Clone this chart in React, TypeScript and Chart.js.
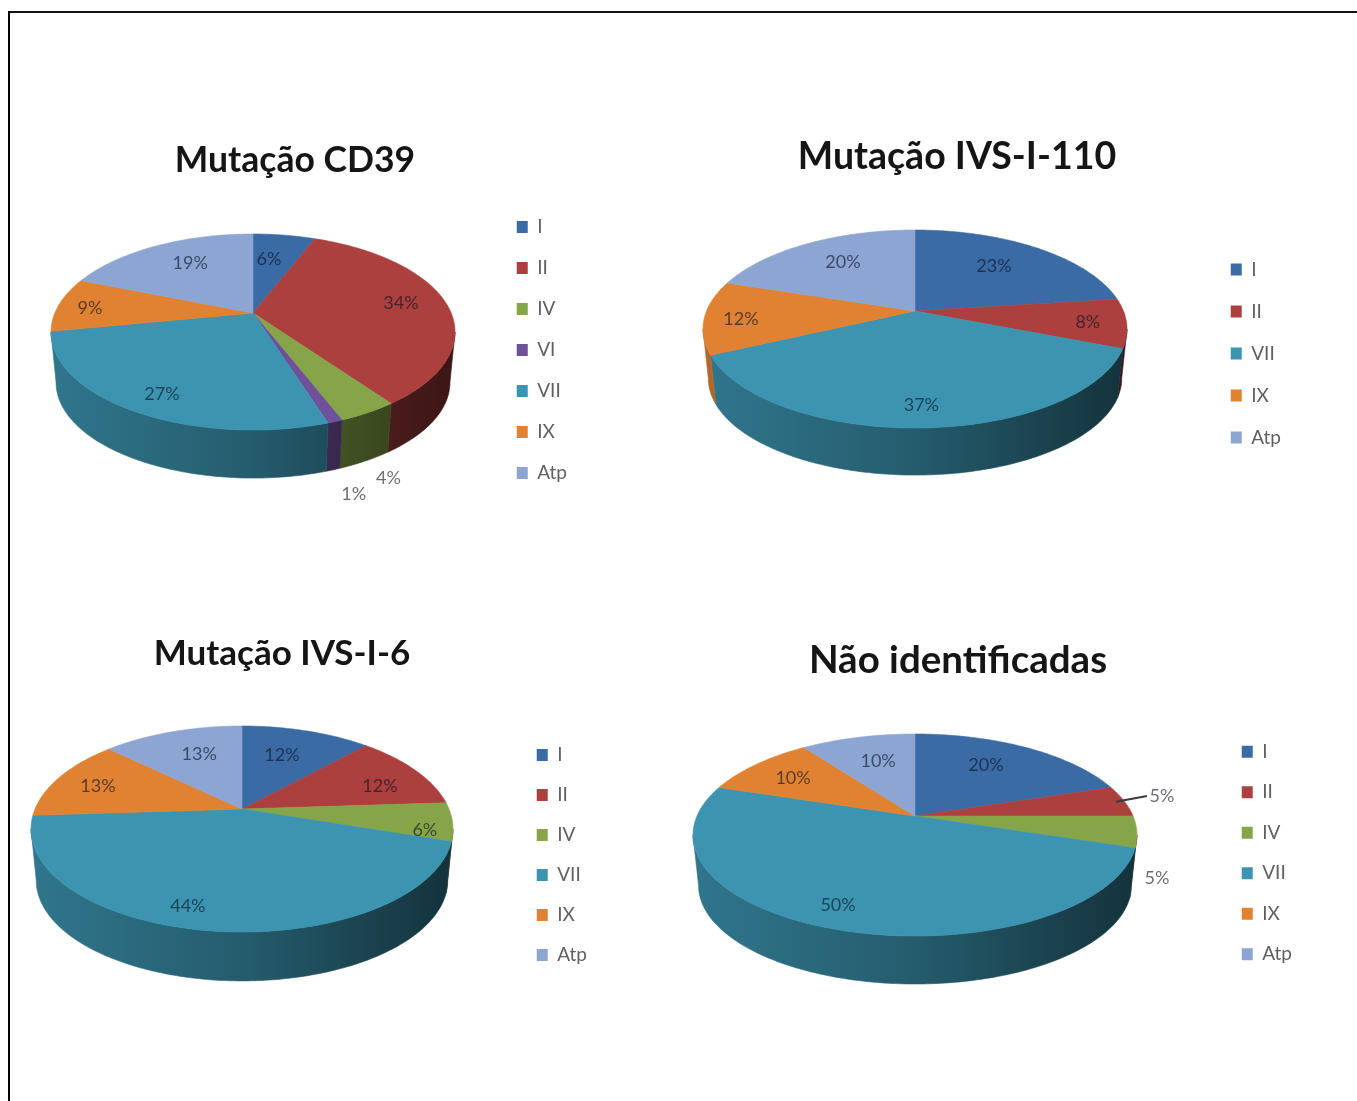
import React, { useEffect, useRef } from "react";
import { Chart, registerables } from "chart.js";

Chart.register(...registerables);

const FONT = "Lato, 'Open Sans', sans-serif";

// Slice colours by mutation class.
const CLASS_COLORS: Record<string, string> = {
  I: "#3b6ba5",
  II: "#ab403e",
  IV: "#86a548",
  VI: "#6f509a",
  VII: "#3c94b0",
  IX: "#e08232",
  Atp: "#8ca5d2",
};

const cd39Classes = ["I", "II", "IV", "VI", "VII", "IX", "Atp"];
const cd39Values = [6, 34, 4, 1, 27, 9, 19];

const ivs110Classes = ["I", "II", "VII", "IX", "Atp"];
const ivs110Values = [23, 8, 37, 12, 20];

const ivs6Classes = ["I", "II", "IV", "VII", "IX", "Atp"];
const ivs6Values = [12, 12, 6, 44, 13, 13];

const unknownClasses = ["I", "II", "IV", "VII", "IX", "Atp"];
const unknownValues = [20, 5, 5, 50, 10, 10];

// Label placement: [radial fraction of the disc, degrees away from the slice's middle].
const cd39Spots = [[0.663, -2.9], [0.773, -1.7], [1.4, 7.4], [1.443, 4.9], [0.829, -2.2], [0.835, -1], [0.7, 3.8]];
const ivs110Spots = [[0.671, -3.2], [0.82, 0], [0.826, 0], [0.827, -1.4], [0.692, 2.5]];
const ivs6Spots = [[0.659, -2.4], [0.744, 5.3], [0.872, 5.7], [0.845, 7.9], [0.773, -0.6], [0.676, 3.3]];
const unknownSpots = [[0.695, -4.6], [1.202, -1.8], [1.14, 20.4], [0.83, 3.3], [0.744, -0.4], [0.672, 1.6]];

type Panel = {
  title: string;
  titleSize: number;
  classes: string[];
  values: number[];
  spots: number[][];
  leaders?: number[];
  box: { left: number; top: number; width: number; height: number };
  legendGap: number;
  disc: { cx: number; cy: number; top: number; bottom: number; rx: number; drop: number };
};

const panels: Panel[] = [
  {
    title: "Mutação CD39",
    titleSize: 35.5,
    classes: cd39Classes,
    values: cd39Values,
    spots: cd39Spots,
    box: { left: 13, top: 139, width: 564, height: 422 },
    legendGap: 22,
    disc: { cx: 253, cy: 313, top: 234, bottom: 430, rx: 202, drop: 51 },
  },
  {
    title: "Mutação IVS-I-110",
    titleSize: 37.5,
    classes: ivs110Classes,
    values: ivs110Values,
    spots: ivs110Spots,
    box: { left: 623, top: 134, width: 668, height: 439 },
    legendGap: 23,
    disc: { cx: 915, cy: 311, top: 230, bottom: 428, rx: 212, drop: 50 },
  },
  {
    title: "Mutação IVS-I-6",
    titleSize: 35,
    classes: ivs6Classes,
    values: ivs6Values,
    spots: ivs6Spots,
    box: { left: -33, top: 633, width: 630, height: 444 },
    legendGap: 21,
    disc: { cx: 242, cy: 809, top: 726, bottom: 932, rx: 211, drop: 52 },
  },
  {
    title: "Não identificadas",
    titleSize: 38.5,
    classes: unknownClasses,
    values: unknownValues,
    spots: unknownSpots,
    leaders: [1],
    box: { left: 614, top: 637, width: 688, height: 432 },
    legendGap: 21.5,
    disc: { cx: 915, cy: 816, top: 734, bottom: 936, rx: 222, drop: 51 },
  },
];

function shade(hex: string, f: number) {
  const n = parseInt(hex.slice(1), 16);
  const c = [(n >> 16) & 255, (n >> 8) & 255, n & 255].map((x) => Math.round(x * f));
  return `rgb(${c[0]},${c[1]},${c[2]})`;
}

// Perspective view of a flat disc: the near edge is larger than the far edge, so
// the hub sits above the middle of the ellipse. theta is clockwise from 12 o'clock.
function makeProjection(panel: Panel, ox: number, oy: number) {
  const { cx, cy, top, bottom, rx, drop } = panel.disc;
  const up = cy - top;
  const down = bottom - cy;
  const k = (down - up) / (down + up);
  const a = up * (1 + k);
  const b = rx * Math.sqrt(1 - k * k);
  const face = (theta: number, r = 1) => {
    const u = r * Math.sin(theta);
    const v = -r * Math.cos(theta);
    const w = 1 - k * v;
    return { x: cx - ox + (b * u) / w, y: cy - oy + (a * v) / w };
  };
  const base = (theta: number) => {
    const p = face(theta);
    const hubX = cx - ox;
    const hubY = cy - oy;
    return { x: hubX + (p.x - hubX) * 0.975, y: hubY + drop + (p.y - hubY) * 0.975 };
  };
  return { face, base, k, rimLeft: cx - ox - rx, rimRight: cx - ox + rx };
}

const pie3d = {
  id: "pie3d",
  beforeDatasetsDraw(chart: any, _args: any, opts: any) {
    const panel: Panel = opts.panel;
    const { ctx } = chart;
    const box = panel.box;
    const proj = makeProjection(panel, box.left, box.top);
    const arcs = chart.getDatasetMeta(0).data;
    const colors: string[] = chart.data.datasets[0].backgroundColor;
    const step = Math.PI / 180;
    const spanOf = (el: any) => {
      const p = el.getProps(["startAngle", "endAngle"], true);
      return [p.startAngle + Math.PI / 2, p.endAngle + Math.PI / 2];
    };

    // Outer wall, limited to the part that faces the viewer.
    const firstVisible = Math.acos(-proj.k);
    const lastVisible = 2 * Math.PI - firstVisible;
    arcs.forEach((el: any, i: number) => {
      const [s, e] = spanOf(el);
      const from = Math.max(s, firstVisible);
      const to = Math.min(e, lastVisible);
      if (to <= from) return;
      const grad = ctx.createLinearGradient(proj.rimLeft, 0, proj.rimRight, 0);
      grad.addColorStop(0, shade(colors[i], 0.8));
      grad.addColorStop(0.5, shade(colors[i], 0.62));
      grad.addColorStop(0.75, shade(colors[i], 0.48));
      grad.addColorStop(1, shade(colors[i], 0.34));
      ctx.beginPath();
      for (let t = from; t < to; t += step) {
        const p = proj.face(t);
        ctx.lineTo(p.x, p.y);
      }
      const pe = proj.face(to);
      ctx.lineTo(pe.x, pe.y);
      for (let t = to; t > from; t -= step) {
        const p = proj.base(t);
        ctx.lineTo(p.x, p.y);
      }
      const pf = proj.base(from);
      ctx.lineTo(pf.x, pf.y);
      ctx.closePath();
      ctx.fillStyle = grad;
      ctx.strokeStyle = grad;
      ctx.lineWidth = 0.6;
      ctx.fill();
      ctx.stroke();
    });

    // Top face.
    arcs.forEach((el: any, i: number) => {
      const [s, e] = spanOf(el);
      const hub = proj.face(0, 0);
      ctx.beginPath();
      ctx.moveTo(hub.x, hub.y);
      for (let t = s; t < e; t += step) {
        const p = proj.face(t);
        ctx.lineTo(p.x, p.y);
      }
      const pe = proj.face(e);
      ctx.lineTo(pe.x, pe.y);
      ctx.closePath();
      ctx.fillStyle = colors[i];
      ctx.strokeStyle = colors[i];
      ctx.lineWidth = 0.6;
      ctx.fill();
      ctx.stroke();
    });

    // Percentage labels, and a short leader where a label sits off its slice.
    const values: number[] = chart.data.datasets[0].data;
    ctx.font = `18px ${FONT}`;
    ctx.textAlign = "center";
    ctx.textBaseline = "middle";
    arcs.forEach((el: any, i: number) => {
      const [s, e] = spanOf(el);
      const mid = (s + e) / 2;
      const [radial, nudge] = panel.spots[i];
      const at = proj.face(mid + (nudge * Math.PI) / 180, radial);
      if (panel.leaders?.includes(i)) {
        const from = proj.face(mid, 0.96);
        ctx.beginPath();
        ctx.moveTo(from.x, from.y);
        ctx.lineTo(at.x - 15, at.y + 1);
        ctx.strokeStyle = "#3a3a3a";
        ctx.lineWidth = 2;
        ctx.stroke();
      }
      ctx.fillStyle = "rgba(8,16,36,0.62)";
      ctx.fillText(`${values[i]}%`, at.x, at.y + 1);
    });
    return false;
  },
};

function PieCard({ panel }: { panel: Panel }) {
  const ref = useRef<HTMLCanvasElement>(null);
  useEffect(() => {
    const chart = new Chart(ref.current!, {
      type: "pie",
      data: {
        labels: panel.classes,
        datasets: [
          {
            data: panel.values,
            backgroundColor: panel.classes.map((c) => CLASS_COLORS[c]),
            borderWidth: 0,
          },
        ],
      },
      plugins: [pie3d],
      options: {
        responsive: false,
        animation: false,
        plugins: {
          title: {
            display: true,
            text: panel.title,
            color: "#151515",
            font: { family: FONT, size: panel.titleSize, weight: "bold" },
            padding: { top: 0, bottom: 0 },
          },
          legend: {
            position: "right",
            labels: {
              boxWidth: 11,
              boxHeight: 12,
              padding: panel.legendGap,
              color: "#606060",
              font: { family: FONT, size: 19 },
            },
          },
          tooltip: { enabled: false },
          pie3d: { panel },
        } as any,
      },
    });
    return () => chart.destroy();
  }, [panel]);
  const { left, top, width, height } = panel.box;
  return (
    <canvas
      ref={ref}
      width={width}
      height={height}
      style={{ position: "absolute", left, top, width, height }}
    />
  );
}

export default function App() {
  return (
    <div
      style={{
        position: "absolute",
        left: 0,
        top: 0,
        width: 1357,
        height: 1101,
        overflow: "hidden",
        background: "#fff",
      }}
    >
      <div
        style={{
          position: "absolute",
          left: 8,
          top: 11,
          width: 1349,
          height: 1090,
          boxSizing: "border-box",
          borderTop: "2px solid #111",
          borderLeft: "2px solid #000",
        }}
      />
      {panels.map((p) => (
        <PieCard key={p.title} panel={p} />
      ))}
    </div>
  );
}
